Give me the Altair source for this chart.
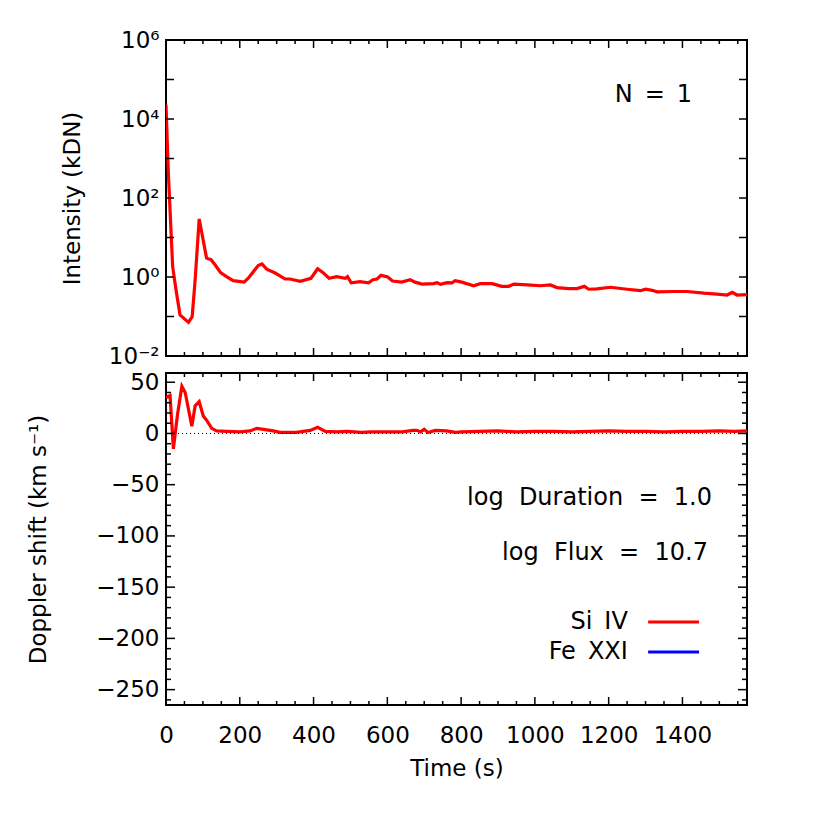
import altair as alt
import pandas as pd

# ---------------- data ----------------
time_int = [0, 6, 13, 18, 27, 38, 61, 71, 79, 90,
            110, 122, 133, 148, 164, 182, 212, 223, 250, 260,
            273, 296, 323, 336, 364, 393, 411, 427, 442, 463,
            486, 492, 502, 526, 549, 561, 572, 583, 601, 614,
            639, 662, 675, 694, 725, 735, 744, 762, 775, 784,
            802, 834, 852, 884, 910, 929, 943, 979, 1015, 1042,
            1060, 1092, 1114, 1134, 1146, 1168, 1205, 1250, 1286, 1300,
            1318, 1331, 1377, 1413, 1458, 1494, 1521, 1535, 1548, 1575]
intensity_si = [23200, 525, 19.1, 1.86, 0.48, 0.11, 0.071, 0.10, 0.85, 29.5,
                3.0, 2.75, 2.04, 1.29, 1.02, 0.81, 0.74, 0.93, 1.95, 2.14,
                1.58, 1.26, 0.89, 0.89, 0.78, 0.93, 1.62, 1.26, 0.93, 1.02,
                0.93, 1.02, 0.71, 0.76, 0.71, 0.85, 0.89, 1.10, 1.0, 0.79,
                0.74, 0.85, 0.74, 0.66, 0.68, 0.72, 0.65, 0.72, 0.71, 0.81,
                0.74, 0.60, 0.68, 0.68, 0.58, 0.58, 0.66, 0.63, 0.60, 0.63,
                0.54, 0.51, 0.51, 0.58, 0.49, 0.50, 0.55, 0.49, 0.45, 0.49,
                0.46, 0.42, 0.43, 0.43, 0.39, 0.37, 0.35, 0.41, 0.35, 0.36]

time_dop = [0, 11, 20, 31, 43, 52, 70, 79, 90, 101,
            110, 124, 137, 165, 201, 228, 246, 264, 291, 309,
            354, 391, 411, 432, 463, 490, 530, 555, 600, 640,
            670, 680, 690, 700, 710, 730, 760, 785, 800, 850,
            900, 950, 1000, 1050, 1100, 1150, 1200, 1250, 1300, 1350,
            1400, 1450, 1500, 1540, 1575]
doppler_si = [35, 37, -15, 18, 46, 40, 7, 27, 31, 17,
              13, 5, 2.5, 2, 1.5, 2.5, 5, 4, 2.5, 1,
              1, 3, 6, 2, 1.5, 2, 1, 1.5, 1.5, 1.5,
              3, 3, 1.5, 4, 1, 3, 2.5, 1, 1.5, 2,
              2.5, 1.5, 2, 2, 1.5, 2, 2.5, 2, 2, 1.5,
              2, 2, 2.5, 2, 2.5]

x_major = [0, 200, 400, 600, 800, 1000, 1200, 1400]
x_minor = [v for v in range(50, 1576, 50) if v % 200 != 0]
int_ticks = [1e-2, 1e-1, 1e0, 1e1, 1e2, 1e3, 1e4, 1e5, 1e6]
int_labels = [1e-2, 1e0, 1e2, 1e4, 1e6]
dop_major = [50, 0, -50, -100, -150, -200, -250]
dop_minor = [v for v in range(-260, 60, 10) if v % 50 != 0]

annot_top = ["N\u2002=\u20021"]
annot_bot = ["log\u2007Duration\u2007=\u20071.0", "log\u2007Flux\u2007=\u200710.7"]
legend_names = ["Si\u2002IV", "Fe\u2002XXI"]
legend_colors = ["#ff0000", "#0000ff"]

# ---------------- layout ----------------
W = 581
H1 = 316
H2 = 332
FONT = "DejaVu Sans"
FS = 23

X_DOM = [0, 1575]
xs = alt.Scale(domain=X_DOM, nice=False, zero=False)
ys_top = alt.Scale(type="log", domain=[1e-2, 1e6], nice=False)
ys_bot = alt.Scale(domain=[-265, 59], nice=False, zero=False)

sup_expr = ("datum.value < 0.05 ? '10\u207b\u00b2' : datum.value < 5 ? '10\u2070' : "
            "datum.value < 500 ? '10\u00b2' : datum.value < 50000 ? '10\u2074' : '10\u2076'")

ax_y_top = alt.Axis(values=int_labels, labelExpr=sup_expr, ticks=False, domain=False,
                    grid=False, labelPadding=7, labelFontSize=FS, labelFont=FONT,
                    labelColor="black", labelFlush=False,
                    title="Intensity (kDN)", titleFontSize=FS, titleFont=FONT,
                    titleFontWeight="normal", titleColor="black", titlePadding=24)
ax_x_bot = alt.Axis(values=x_major, format="d", ticks=False, domain=False, grid=False,
                    labelPadding=19, labelFontSize=FS, labelFont=FONT, labelColor="black",
                    labelFlush=False,
                    title="Time (s)", titleFontSize=FS, titleFont=FONT,
                    titleFontWeight="normal", titleColor="black", titlePadding=10)
ax_y_bot = alt.Axis(values=dop_major, format="d", ticks=False, domain=False, grid=False,
                    labelPadding=7, labelFontSize=FS, labelFont=FONT, labelColor="black",
                    labelFlush=False,
                    title="Doppler shift (km s\u207b\u00b9)", titleFontSize=FS,
                    titleFont=FONT, titleFontWeight="normal", titleColor="black",
                    titlePadding=45)


def ticks_x(values, H, length, axis):
    df = pd.DataFrame({"v": values})
    bottom = alt.Chart(df).mark_rule(color="black", strokeWidth=1.5).encode(
        x=alt.X("v:Q", scale=xs, axis=axis),
        y=alt.value(H), y2=alt.value(H - length))
    top = alt.Chart(df).mark_rule(color="black", strokeWidth=1.5).encode(
        x=alt.X("v:Q", scale=xs, axis=axis),
        y=alt.value(0), y2=alt.value(length))
    return [bottom, top]


def ticks_y(values, scale, length, axis):
    df = pd.DataFrame({"v": values})
    left = alt.Chart(df).mark_rule(color="black", strokeWidth=1.5).encode(
        y=alt.Y("v:Q", scale=scale, axis=axis),
        x=alt.value(0), x2=alt.value(length))
    right = alt.Chart(df).mark_rule(color="black", strokeWidth=1.5).encode(
        y=alt.Y("v:Q", scale=scale, axis=axis),
        x=alt.value(W), x2=alt.value(W - length))
    return [left, right]


# ---------------- top panel ----------------
df_int = pd.DataFrame({"t": time_int, "v": intensity_si})
top_line = alt.Chart(df_int).mark_line(color="#ff0000", strokeWidth=3.2, clip=True).encode(
    x=alt.X("t:Q", scale=xs, axis=None),
    y=alt.Y("v:Q", scale=ys_top, axis=ax_y_top),
)

df_n = pd.DataFrame({"t": [1426], "v": [40500], "label": annot_top})
top_text = alt.Chart(df_n).mark_text(align="right", baseline="middle", font=FONT,
                                      fontSize=24, color="black").encode(
    x=alt.X("t:Q", scale=xs, axis=None),
    y=alt.Y("v:Q", scale=ys_top, axis=ax_y_top),
    text="label:N")

top = alt.layer(top_line, top_text,
                *ticks_x(x_major, H1, 8, None), *ticks_x(x_minor, H1, 4, None),
                *ticks_y(int_ticks, ys_top, 8, ax_y_top)).properties(width=W, height=H1)

# ---------------- bottom panel ----------------
df_dop = pd.DataFrame({"t": time_dop, "v": doppler_si})
zero_line = alt.Chart(pd.DataFrame({"v": [0]})).mark_rule(
    color="black", strokeWidth=1, strokeDash=[1, 3]).encode(
    y=alt.Y("v:Q", scale=ys_bot, axis=ax_y_bot),
    x=alt.value(0), x2=alt.value(W))

bot_line = alt.Chart(df_dop).mark_line(color="#ff0000", strokeWidth=3.2, clip=True).encode(
    x=alt.X("t:Q", scale=xs, axis=ax_x_bot),
    y=alt.Y("v:Q", scale=ys_bot, axis=ax_y_bot),
)

df_annot = pd.DataFrame({"t": [1480, 1469], "v": [-63, -116.7], "label": annot_bot})
bot_text = alt.Chart(df_annot).mark_text(align="right", baseline="middle", font=FONT,
                                          fontSize=24, color="black").encode(
    x=alt.X("t:Q", scale=xs, axis=ax_x_bot),
    y=alt.Y("v:Q", scale=ys_bot, axis=ax_y_bot),
    text="label:N")

df_leg = pd.DataFrame({"t": [1252, 1252], "t1": [1307, 1307], "t2": [1445, 1445],
                       "v": [-184, -213.3], "label": legend_names, "c": legend_colors})
leg_text = alt.Chart(df_leg).mark_text(align="right", baseline="middle", font=FONT,
                                        fontSize=24, color="black").encode(
    x=alt.X("t:Q", scale=xs, axis=ax_x_bot),
    y=alt.Y("v:Q", scale=ys_bot, axis=ax_y_bot),
    text="label:N")
leg_line = alt.Chart(df_leg).mark_rule(strokeWidth=3).encode(
    x=alt.X("t1:Q", scale=xs, axis=ax_x_bot), x2="t2:Q",
    y=alt.Y("v:Q", scale=ys_bot, axis=ax_y_bot),
    color=alt.Color("c:N", scale=None))

bottom = alt.layer(bot_line, zero_line, bot_text, leg_text, leg_line,
                   *ticks_x(x_major, H2, 8, ax_x_bot), *ticks_x(x_minor, H2, 4, ax_x_bot),
                   *ticks_y(dop_major, ys_bot, 9, ax_y_bot), *ticks_y(dop_minor, ys_bot, 5, ax_y_bot)
                   ).properties(width=W, height=H2)

chart = alt.vconcat(top, bottom, spacing=1).properties(
    padding={"left": 18, "top": 20, "right": 5, "bottom": 5},
    background="white",
).configure_view(stroke="black", strokeWidth=2)

chart.save("out.html", embed_options={"renderer": "svg", "actions": False})
